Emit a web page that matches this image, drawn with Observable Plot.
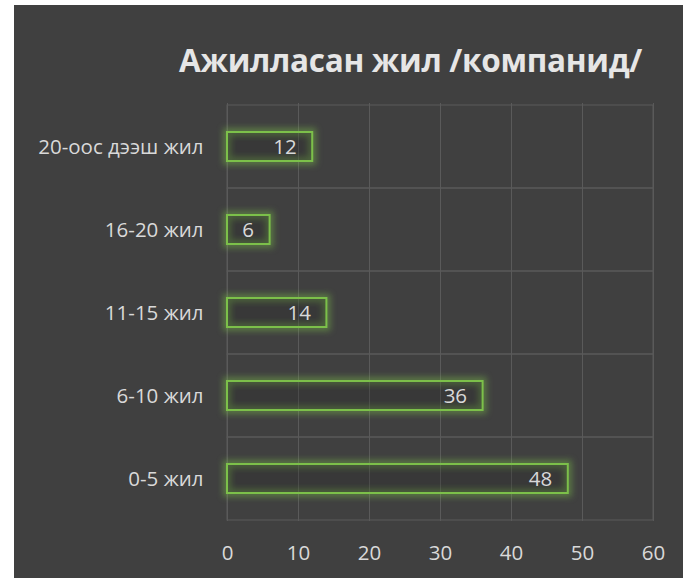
<!DOCTYPE html>
<html><head><meta charset="utf-8">
<script src="https://cdn.jsdelivr.net/npm/d3@7"></script>
<script src="https://cdn.jsdelivr.net/npm/@observablehq/plot@0.6"></script>
<style>
html,body{margin:0;padding:0;background:#fff;}
#wrap{position:absolute;left:14px;top:5px;width:669px;height:573px;background:#404040;overflow:hidden;}
#title{position:absolute;right:41px;top:33px;color:#e6e6e6;font:bold 31.5px "Open Sans",sans-serif;letter-spacing:-0.3px;white-space:nowrap;}
#chart{position:absolute;left:0;top:0;}
#chart svg g[aria-label="x-axis tick label"] text{font-size:20.5px;}
#chart svg g[aria-label="y-axis tick label"] text{font-size:20.5px;}
</style></head>
<body><div id="wrap"><div id="title">Ажилласан жил /компанид/</div><div id="chart"></div></div>
<script>
const categories = ["20-оос дээш жил","16-20 жил","11-15 жил","6-10 жил","0-5 жил"];
const values = [12, 6, 14, 36, 48];
const xTicks = [0,10,20,30,40,50,60];

const data = categories.map((c,i)=>({cat:c, v:values[i]}));
const green = "#7cc04a";
const grid = "#5a5a5a";
const W = 669, H = 573;
const inset = 27;

const plot = Plot.plot({
  width: W, height: H,
  marginLeft: 213, marginRight: 30, marginTop: 98, marginBottom: 57,
  style: {background: "transparent", color: "#d9d9d9", fontFamily: "'Open Sans', sans-serif", fontSize: "20.5px"},
  x: {domain: [0, 60], label: null},
  y: {domain: categories, padding: 0, label: null},
  marks: [
    Plot.gridX(xTicks, {stroke: grid, strokeOpacity: 1, strokeWidth: 1}),
    Plot.barX(categories, {x1: 0, x2: 60, y: d=>d, fill: "none", stroke: grid, strokeWidth: 1}),
    Plot.barX(data, {x: "v", y: "cat", insetTop: inset, insetBottom: inset, fill: "none", stroke: green, strokeWidth: 8, strokeOpacity: 0.45, className: "glow"}),
    Plot.barX(data, {x: "v", y: "cat", insetTop: inset, insetBottom: inset, fill: "#1e1e1e", fillOpacity: 0.25, stroke: green, strokeWidth: 2}),
    Plot.text(data, {x: "v", y: "cat", text: d=>String(d.v), textAnchor: "end", dx: -16, fill: "#d9d9d9", fontSize: 20.5}),
    Plot.axisX({ticks: xTicks, tickSize: 0, tickPadding: 24, fontSize: 20.5, fill: "#d9d9d9", label: null}),
    Plot.axisY({tickSize: 0, tickPadding: 24, fontSize: 20.5, fill: "#d9d9d9", label: null})
  ]
});
document.getElementById("chart").appendChild(plot);
plot.querySelectorAll("g.glow, g[class*='glow']").forEach(g=>g.style.filter="blur(3px)");
</script>
</body></html>
